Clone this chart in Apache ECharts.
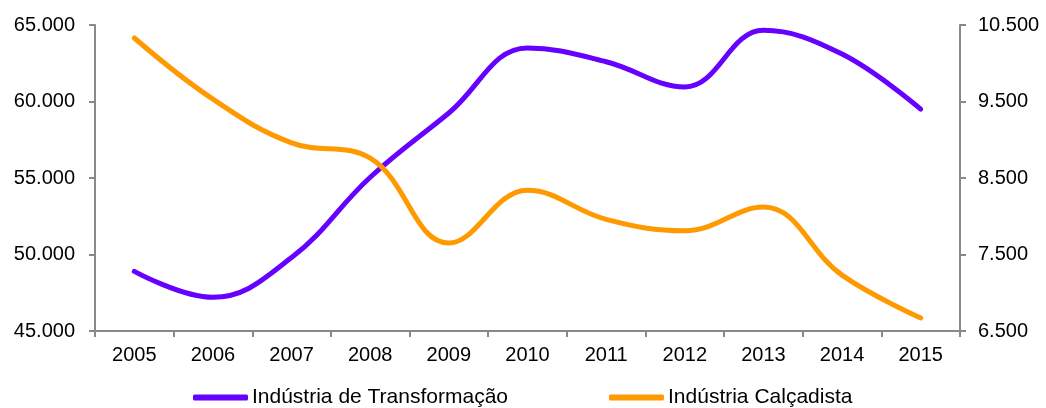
<!DOCTYPE html>
<html><head><meta charset="utf-8">
<script src="https://cdn.jsdelivr.net/npm/echarts@6/dist/echarts.min.js"></script>
<style>html,body{margin:0;padding:0;background:#fff}#c{width:1046px;height:408px}</style>
</head><body><div id="c"></div>
<script>
const years = ['2005','2006','2007','2008','2009','2010','2011','2012','2013','2014','2015'];
const transformacao = [48900, 47200, 49800, 55050, 59250, 63500, 62600, 60950, 64650, 63100, 59500];
const calcadista = [10330, 9530, 8960, 8760, 7650, 8340, 7960, 7810, 8120, 7230, 6670];
const seriesNames = ['Indústria de Transformação', 'Indústria Calçadista'];

const fmt = v => {
  const s = Math.round(v).toString();
  return s.replace(/\B(?=(\d{3})+(?!\d))/g, '.');
};
const axisStyle = {lineStyle:{color:'#898989', width:2}};
const font = 'Liberation Sans, Arial, sans-serif';
const chart = echarts.init(document.getElementById('c'));
chart.setOption({
  animation:false,
  grid:{left:95, right:86, top:25, bottom:77, containLabel:false},
  legend:{
    left:188, top:382, itemWidth:55, itemHeight:6, itemGap:101,
    icon:'roundRect',
    textStyle:{fontFamily:font, fontSize:21, color:'#000', padding:[0,0,0,-1]},
    data:seriesNames
  },
  xAxis:{
    type:'category', data:years, boundaryGap:true,
    axisLine:axisStyle,
    axisTick:{show:true, length:6, lineStyle:{color:'#898989', width:2}},
    axisLabel:{fontFamily:font, fontSize:20, color:'#000', margin:14}
  },
  yAxis:[
    {type:'value', min:45000, max:65000, interval:5000, position:'left',
     axisLine:{show:true, ...axisStyle},
     axisTick:{show:true, length:6, lineStyle:{color:'#898989', width:2}},
     splitLine:{show:false},
     axisLabel:{fontFamily:font, fontSize:20, color:'#000', margin:20, formatter:fmt}},
    {type:'value', min:6500, max:10500, interval:1000, position:'right',
     axisLine:{show:true, ...axisStyle},
     axisTick:{show:true, length:6, lineStyle:{color:'#898989', width:2}},
     splitLine:{show:false},
     axisLabel:{fontFamily:font, fontSize:20, color:'#000', margin:18, formatter:fmt}}
  ],
  series:[
    {name:seriesNames[0], type:'line', data:transformacao, yAxisIndex:0, smooth:0.4,
     showSymbol:false, symbol:'none', lineStyle:{color:'#6600FF', width:5, cap:'round'}, itemStyle:{color:'#6600FF'}},
    {name:seriesNames[1], type:'line', data:calcadista, yAxisIndex:1, smooth:0.4,
     showSymbol:false, symbol:'none', lineStyle:{color:'#FF9900', width:5, cap:'round'}, itemStyle:{color:'#FF9900'}}
  ]
});
</script></body></html>
